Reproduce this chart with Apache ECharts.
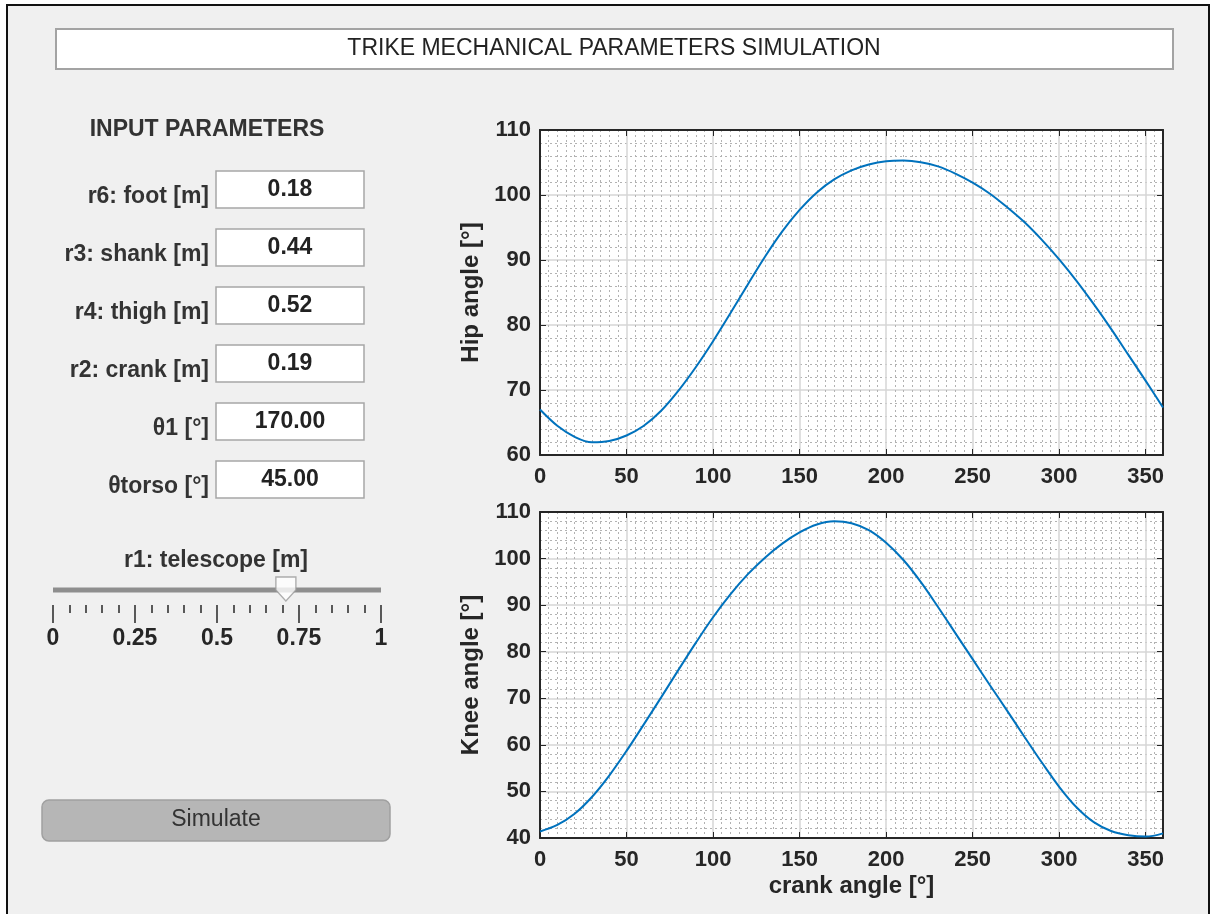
<!DOCTYPE html>
<html>
<head>
<meta charset="utf-8">
<script src="https://cdn.jsdelivr.net/npm/echarts@6/dist/echarts.min.js"></script>
<style>
html,body{margin:0;padding:0;background:#ffffff;}
#chart{width:1216px;height:914px;}
</style>
</head>
<body>
<div id="chart"></div>
<script>
// ---- data ----
const crankAngle = [0,10,20,30,40,50,60,70,80,90,100,110,120,130,140,150,160,170,180,190,200,210,220,230,240,250,260,270,280,290,300,310,320,330,340,350,360];
const hipAngle = [67.0,64.5,62.8,61.95,62.15,63.0,64.5,66.8,69.9,73.5,77.5,81.8,86.2,90.5,94.4,97.7,100.4,102.4,103.8,104.7,105.2,105.3,105.05,104.4,103.3,101.9,100.2,98.1,95.8,93.1,90.1,86.8,83.2,79.4,75.4,71.4,67.3];
const kneeAngle = [41.4,42.8,45.2,48.8,53.4,58.7,64.4,70.2,76.1,81.9,87.4,92.3,96.6,100.2,103.2,105.6,107.3,108.0,107.6,106.1,103.4,99.7,95.0,89.6,84.0,78.4,72.8,67.3,61.7,56.2,51.0,46.6,43.4,41.5,40.6,40.3,41.0];
const hipRange = [60, 110];
const kneeRange = [40, 110];
const crankRange = [0, 360];
const paramLabels = ['r6: foot [m]','r3: shank [m]','r4: thigh [m]','r2: crank [m]','θ1 [°]','θtorso [°]'];
const paramValues = ['0.18','0.44','0.52','0.19','170.00','45.00'];
const sliderRange = [0, 1];
const telescopeValue = 0.71;
const titleText = 'TRIKE MECHANICAL PARAMETERS SIMULATION';

const FF = '"Liberation Sans", Arial, Helvetica, sans-serif';
const AX = '#262626';
const BLUE = '#0072BD';

const chart = echarts.init(document.getElementById('chart'), null, {renderer:'canvas'});

const xAxes = [], yAxes = [];
function addPlotAxes(gi, yr, yName, xName) {
  const axisLine = {show:true, onZero:false, lineStyle:{color:AX, width:2}};
  const tick = {show:true, inside:true, length:6, lineStyle:{color:AX, width:1}};
  const labelStyle = {fontSize:22, fontWeight:'bold', color:AX, fontFamily:FF};
  const minorLine = {show:true, lineStyle:{color:'#b2b2b2', width:1, type:[2,3]}};
  xAxes.push({
    type:'value', gridIndex:gi, position:'bottom', min:crankRange[0], max:crankRange[1], interval:50,
    axisLine, axisTick:tick,
    axisLabel:Object.assign({show:true, margin:11, formatter:v => v === 360 ? '' : String(v)}, labelStyle),
    splitLine:{show:true, lineStyle:{color:'#d6d6d6', width:1.5}},
    minorTick:{show:false, splitNumber:10},
    minorSplitLine:minorLine,
    name:xName || '', nameLocation:'middle', nameGap:36,
    nameTextStyle:{fontSize:24, fontWeight:'bold', color:AX, fontFamily:FF}
  });
  xAxes.push({
    type:'value', gridIndex:gi, position:'top', min:crankRange[0], max:crankRange[1], interval:50,
    axisLine, axisTick:tick, axisLabel:{show:false}, splitLine:{show:false}
  });
  yAxes.push({
    type:'value', gridIndex:gi, position:'left', min:yr[0], max:yr[1], interval:10,
    axisLine, axisTick:tick,
    axisLabel:Object.assign({show:true, margin:9}, labelStyle),
    splitLine:{show:true, lineStyle:{color:'#d6d6d6', width:1.5}},
    minorTick:{show:false, splitNumber:5},
    minorSplitLine:minorLine,
    name:yName, nameLocation:'middle', nameGap:56, nameRotate:90,
    nameTextStyle:{fontSize:24, fontWeight:'bold', color:AX, fontFamily:FF}
  });
  yAxes.push({
    type:'value', gridIndex:gi, position:'right', min:yr[0], max:yr[1], interval:10,
    axisLine, axisTick:tick, axisLabel:{show:false}, splitLine:{show:false}
  });
}
addPlotAxes(0, hipRange, 'Hip angle [°]', '');
addPlotAxes(1, kneeRange, 'Knee angle [°]', 'crank angle [°]');

// slider scale
xAxes.push({
  type:'value', gridIndex:2, position:'bottom', min:sliderRange[0], max:sliderRange[1], interval:0.25,
  axisLine:{show:false},
  axisTick:{show:true, inside:false, length:18, lineStyle:{color:'#333', width:1.6}},
  minorTick:{show:true, splitNumber:5, length:8, lineStyle:{color:'#333', width:1.6}},
  axisLabel:{show:true, margin:22, fontSize:23, fontWeight:'bold', color:AX, fontFamily:FF, formatter:v => String(v)},
  splitLine:{show:false}
});
yAxes.push({type:'value', gridIndex:2, min:0, max:1, show:false});

const graphic = [];
// window frame
graphic.push({type:'rect', z:-10, shape:{x:7, y:5, width:1202, height:940}, style:{fill:'#f0f0f0', stroke:'#111', lineWidth:2}});
// title box
graphic.push({type:'rect', shape:{x:56, y:29, width:1117, height:40}, style:{fill:'#ffffff', stroke:'#a3a3a3', lineWidth:2}});
graphic.push({type:'text', style:{text:titleText, x:614, y:49, textAlign:'center', textVerticalAlign:'middle', font:'23px ' + FF, fill:'#222'}});
// input parameters
graphic.push({type:'text', style:{text:'INPUT PARAMETERS', x:207, y:130, textAlign:'center', textVerticalAlign:'middle', font:'bold 23px ' + FF, fill:'#333'}});
paramLabels.forEach((lab, i) => {
  const top = 171 + 58 * i;
  graphic.push({type:'rect', shape:{x:216, y:top, width:148, height:37}, style:{fill:'#ffffff', stroke:'#a6a6a6', lineWidth:1.5}});
  graphic.push({type:'text', style:{text:lab, x:209, y:top + 26, textAlign:'right', textVerticalAlign:'middle', font:'bold 23px ' + FF, fill:'#333'}});
  graphic.push({type:'text', style:{text:paramValues[i], x:290, y:top + 19, textAlign:'center', textVerticalAlign:'middle', font:'bold 23px ' + FF, fill:'#222'}});
});
// slider label
graphic.push({type:'text', style:{text:'r1: telescope [m]', x:216, y:561, textAlign:'center', textVerticalAlign:'middle', font:'bold 23px ' + FF, fill:'#333'}});
// button
graphic.push({type:'rect', shape:{x:42, y:800, width:348, height:41, r:7}, style:{fill:'#b6b6b6', stroke:'#a0a0a0', lineWidth:1.5}});
graphic.push({type:'text', style:{text:'Simulate', x:216, y:820, textAlign:'center', textVerticalAlign:'middle', font:'23px ' + FF, fill:'#333'}});

const option = {
  backgroundColor:'#ffffff',
  animation:false,
  grid:[
    {left:540, top:130, width:623, height:325, show:true, backgroundColor:'#ffffff', borderWidth:0},
    {left:540, top:512, width:623, height:326, show:true, backgroundColor:'#ffffff', borderWidth:0},
    {left:53, top:575, width:328, height:30, show:false}
  ],
  xAxis:xAxes,
  yAxis:yAxes,
  graphic:graphic,
  series:[
    {type:'line', xAxisIndex:0, yAxisIndex:0, data:crankAngle.map((x,i)=>[x, hipAngle[i]]), showSymbol:false, smooth:0.35, smoothConstraint:false, lineStyle:{color:BLUE, width:2}, z:5},
    {type:'line', xAxisIndex:2, yAxisIndex:2, data:crankAngle.map((x,i)=>[x, kneeAngle[i]]), showSymbol:false, smooth:0.35, smoothConstraint:false, lineStyle:{color:BLUE, width:2}, z:5},
    {type:'line', xAxisIndex:4, yAxisIndex:4, data:sliderRange.map(v=>[v, 0.5]), showSymbol:false, silent:true, lineStyle:{color:'#8e8e8e', width:5}},
    {type:'scatter', xAxisIndex:4, yAxisIndex:4, data:[[telescopeValue, 0.5]], symbol:'path://M0,0 L20,0 L20,13 L10,24 L0,13 Z', symbolSize:[20,24], symbolOffset:[0,-1], itemStyle:{color:'#ffffff', borderColor:'#9a9a9a', borderWidth:1.5}, z:6}
  ]
};
chart.setOption(option);
</script>
</body>
</html>
